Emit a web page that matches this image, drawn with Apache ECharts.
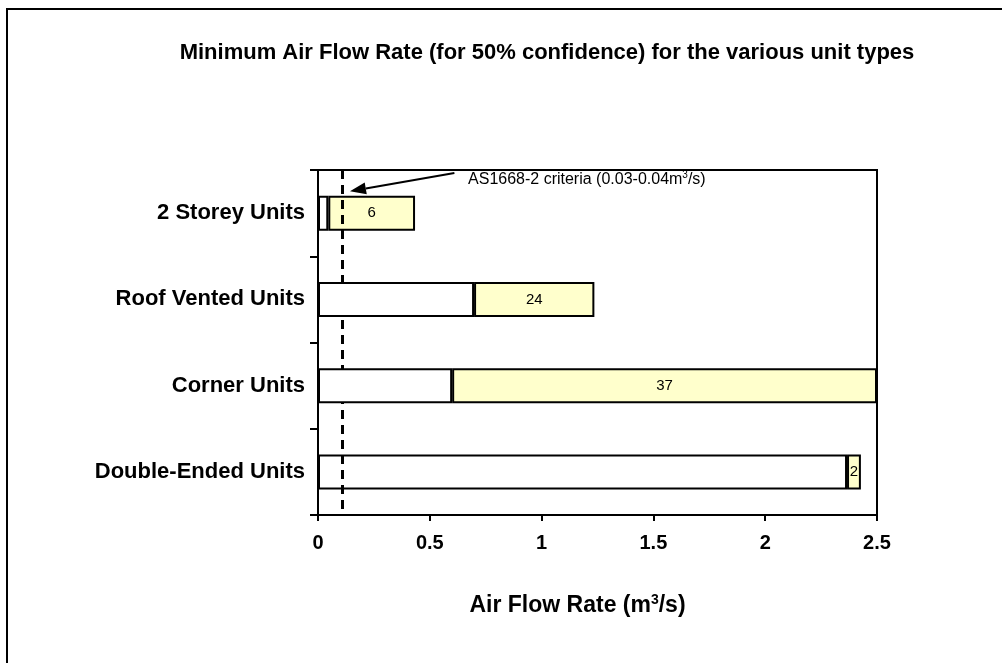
<!DOCTYPE html>
<html>
<head>
<meta charset="utf-8">
<script src="https://cdn.jsdelivr.net/npm/echarts@6/dist/echarts.min.js"></script>
<style>html,body{margin:0;padding:0;background:#fff;}#c{width:1002px;height:663px;}</style>
</head>
<body>
<div id="c"></div>
<script>
const categories = ['2 Storey Units', 'Roof Vented Units', 'Corner Units', 'Double-Ended Units'];
const baseValues = [0.046, 0.698, 0.600, 2.366];
const rangeValues = [0.388, 0.538, 1.900, 0.062];
const rangeLabels = ['6', '24', '37', '2'];
const xTicks = [0, 0.5, 1, 1.5, 2, 2.5];
const criteriaX = 0.112;
const arrowFrom = [0.61, -0.464];
const arrowTo = [0.143, -0.255];
const noteText = 'AS1668-2 criteria (0.03-0.04m{sup|3}/s)';
const notePos = [0.671, -0.39];

const FONT = '"Liberation Sans", Arial, sans-serif';
const chart = echarts.init(document.getElementById('c'), null, {renderer: 'canvas'});

const option = {
  backgroundColor: '#fff',
  animation: false,
  title: {
    text: 'Minimum Air Flow Rate (for 50% confidence) for the various unit types',
    left: 542, top: 37, textAlign: 'center',
    textStyle: {fontFamily: FONT, fontWeight: 'bold', fontSize: 22, color: '#000'}
  },
  grid: {left: 318, right: 125, top: 170, bottom: 148, show: true, borderColor: '#000', borderWidth: 2, backgroundColor: 'transparent'},
  xAxis: {
    type: 'value', min: 0, max: 2.5, interval: 0.5,
    axisLine: {show: true, lineStyle: {color: '#000', width: 2}},
    axisTick: {show: true, inside: false, length: 6, lineStyle: {color: '#000', width: 2}},
    splitLine: {show: false},
    axisLabel: {fontFamily: FONT, fontWeight: 'bold', fontSize: 20, color: '#000', margin: 18,
      formatter: v => String(xTicks.find(t => Math.abs(t - v) < 1e-9) ?? v)},
    name: 'Air Flow Rate (m{sup|3}/s)',
    nameLocation: 'middle', nameGap: 78,
    nameTextStyle: {fontFamily: FONT, fontWeight: 'bold', fontSize: 23, color: '#000', padding: [0, 40, 0, 0],
      rich: {sup: {fontFamily: FONT, fontWeight: 'bold', fontSize: 14, color: '#000', verticalAlign: 'top', padding: [0, 0, 11, 0]}}}
  },
  yAxis: {
    type: 'category', data: categories, inverse: true,
    axisLine: {show: true, lineStyle: {color: '#000', width: 2}},
    axisTick: {show: true, inside: false, length: 8, lineStyle: {color: '#000', width: 2}},
    axisLabel: {fontFamily: FONT, fontWeight: 'bold', fontSize: 22, color: '#000', margin: 13}
  },
  series: [
    {
      name: 'base', type: 'bar', stack: 'a', barWidth: 35, z: 3,
      data: baseValues.map((v, i) => i === 3 ? {value: v, itemStyle: {color: 'rgba(255,255,255,0)'}} : v),
      itemStyle: {color: '#fff', borderColor: '#000', borderWidth: 2},
      label: {show: false}
    },
    {
      name: 'range', type: 'bar', stack: 'a', barWidth: 35, z: 1,
      data: rangeValues,
      itemStyle: {color: '#FFFFCC', borderColor: '#000', borderWidth: 2},
      label: {show: true, position: 'inside', fontFamily: FONT, fontSize: 15, color: '#000',
        formatter: p => rangeLabels[p.dataIndex]},
      markLine: {
        silent: true, symbol: ['none', 'none'], z: 2,
        label: {show: false},
        lineStyle: {color: '#000', type: [9, 6], width: 3},
        data: [{xAxis: criteriaX}]
      }
    }
  ]
};
chart.setOption(option);

function pt(x, catOffset) {
  const p0 = chart.convertToPixel({gridIndex: 0}, [x, 0]);
  const p1 = chart.convertToPixel({gridIndex: 0}, [x, 1]);
  const band = p1[1] - p0[1];
  return [p0[0], p0[1] + catOffset * band];
}
const a = pt(arrowFrom[0], arrowFrom[1]);
const b = pt(arrowTo[0], arrowTo[1]);
const n = pt(notePos[0], notePos[1]);
const ang = Math.atan2(b[1] - a[1], b[0] - a[0]);
const hl = 16, hw = 6;
const bx = b[0] - hl * Math.cos(ang), by = b[1] - hl * Math.sin(ang);
const px = -Math.sin(ang), py = Math.cos(ang);

chart.setOption({
  graphic: [
    {type: 'rect', silent: true, shape: {x: 7, y: 9, width: 1100, height: 700}, style: {fill: 'none', stroke: '#000', lineWidth: 2}},
    {type: 'line', silent: true, z: 10, shape: {x1: a[0], y1: a[1], x2: bx, y2: by}, style: {stroke: '#000', lineWidth: 2}},
    {type: 'polygon', silent: true, z: 10, shape: {points: [[b[0], b[1]], [bx + px * hw, by + py * hw], [bx - px * hw, by - py * hw]]}, style: {fill: '#000'}},
    {type: 'text', silent: true, z: 10, x: n[0], y: n[1],
      style: {text: noteText, fontFamily: FONT, fontSize: 16, fill: '#000', verticalAlign: 'middle', align: 'left',
        rich: {sup: {fontFamily: FONT, fontSize: 10, fill: '#000', verticalAlign: 'top', padding: [0, 0, 9, 0]}}}}
  ]
});
</script>
</body>
</html>
